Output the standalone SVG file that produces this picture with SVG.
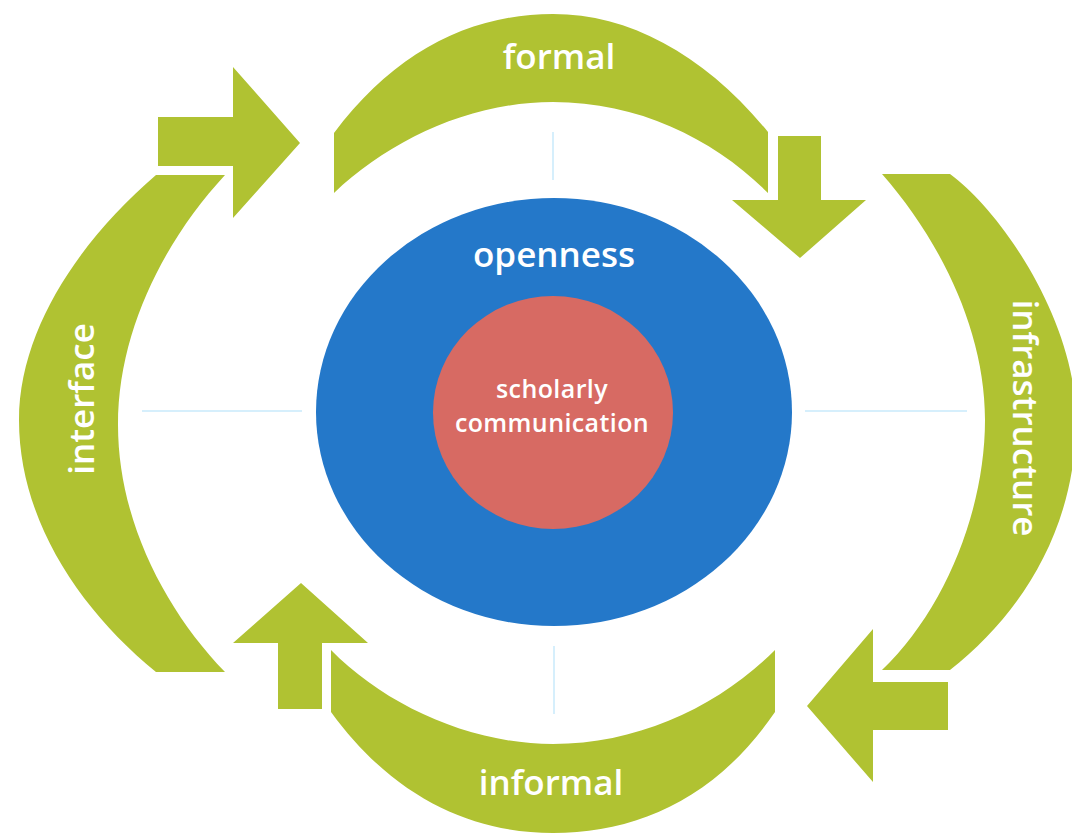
<svg xmlns="http://www.w3.org/2000/svg" width="1072" height="834" viewBox="0 0 1072 834">
<style>
.g{fill:#B0C232}
.lbl{font-family:"Open Sans","Liberation Sans",sans-serif;font-weight:600;fill:#FFFFFF;text-anchor:middle}
.big{font-size:35px}
.small{font-size:25px;letter-spacing:0.4px}
.cross{stroke:#D6EFFC;stroke-width:2;fill:none}
</style>
<rect width="1072" height="834" fill="#FFFFFF"/>
<g id="crosshair" class="cross">
<line x1="553" y1="132" x2="553" y2="180"/>
<line x1="554" y1="646" x2="554" y2="714"/>
<line x1="142" y1="411" x2="302" y2="411"/>
<line x1="805" y1="411" x2="967" y2="411"/>
</g>
<g id="openness">
<ellipse cx="554" cy="412" rx="238" ry="214" fill="#2478C9"/>
<text class="lbl big" x="554" y="267">openness</text>
</g>
<g id="scholarly-communication">
<ellipse cx="553" cy="412.5" rx="120" ry="116.5" fill="#D76A63"/>
<text class="lbl small" x="552" y="398">scholarly</text>
<text class="lbl small" x="552" y="432">communication</text>
</g>
<g id="formal">
<path class="g" d="M334,133 C395,52 470,14 553,14 C630,14 705,55 768,132 L768,193 C715,140 640,102 553,102 C470,102 390,140 334,193 Z"/>
<text class="lbl big" x="559" y="69">formal</text>
</g>
<g id="infrastructure">
<path class="g" d="M882,174 L950,174 C1000,210 1076,320 1076,420 C1076,530 1020,615 950,670 L882,670 C945,610 985,510 985,420 C985,330 940,240 882,174 Z"/>
<text class="lbl big" transform="translate(1013,418) rotate(90)" x="0" y="0">infrastructure</text>
</g>
<g id="informal">
<path class="g" d="M331,712 C395,800 475,833 553,833 C635,833 715,800 775,712 L775,650 C720,705 640,744 553,744 C470,744 385,705 331,650 Z"/>
<text class="lbl big" x="551" y="795">informal</text>
</g>
<g id="interface">
<path class="g" d="M156,175 L225,175 C165,240 118,330 118,425 C118,520 165,610 225,672 L156,672 C80,610 19,520 19,420 C19,330 80,240 156,175 Z"/>
<text class="lbl big" transform="translate(94,399) rotate(-90)" x="0" y="0">interface</text>
</g>
<g id="connectors">
<polygon class="g" points="158,117 233,117 233,67 300,143 233,218 233,166 158,166"/>
<polygon class="g" points="778,136 821,136 821,200 866,200 800,258 732,200 778,200"/>
<polygon class="g" points="948,682 873,682 873,629 807,706 873,782 873,730 948,730"/>
<polygon class="g" points="278,709 278,643 233,643 301,583 368,643 322,643 322,709"/>
</g>
</svg>
